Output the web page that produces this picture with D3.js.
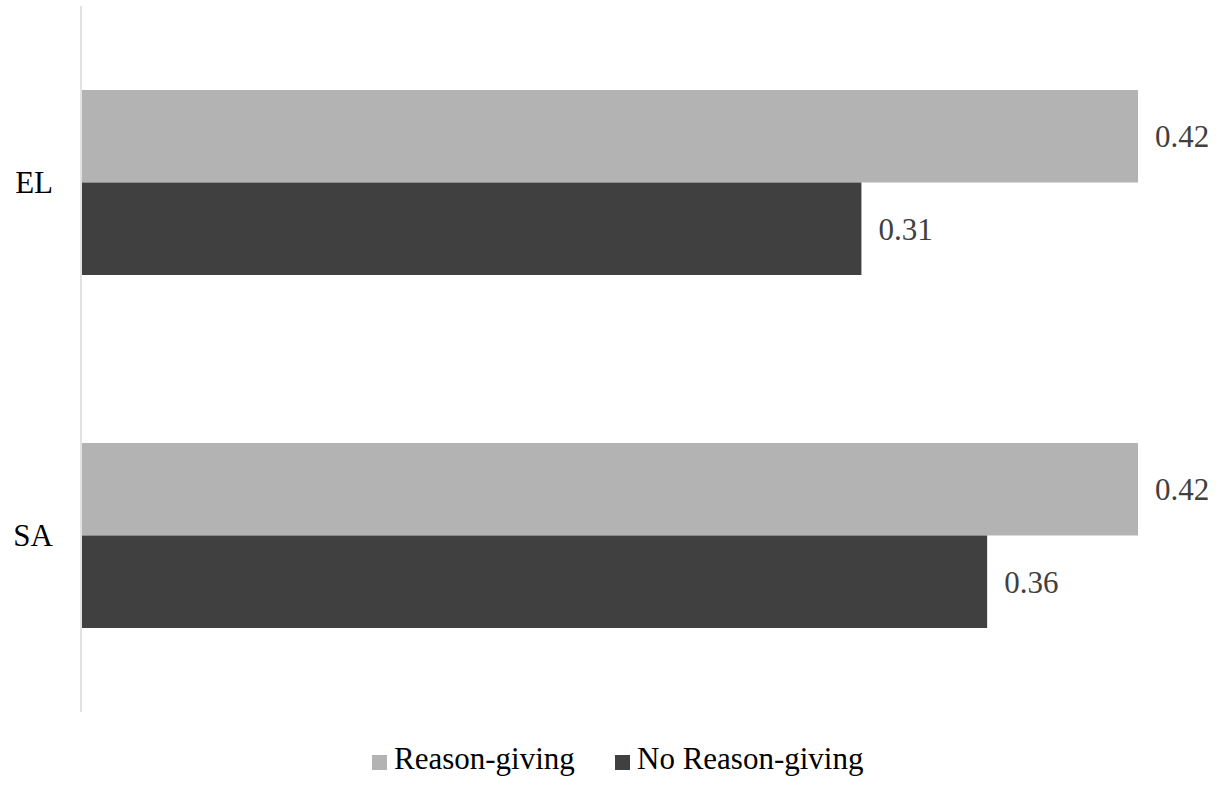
<!DOCTYPE html>
<html>
<head>
<meta charset="utf-8">
<script src="https://cdn.jsdelivr.net/npm/d3@7"></script>
<style>
  body { margin: 0; background: #fff; }
  text { font-family: "Liberation Serif", "Times New Roman", serif; }
</style>
</head>
<body>
<svg width="1222" height="790"></svg>
<script>
var categories = ["EL", "SA"];
var series = ["Reason-giving", "No Reason-giving"];
var reasonGiving = [0.42, 0.42];
var noReasonGiving = [0.31, 0.36];
var colors = ["#b3b3b3", "#404040"];

var svg = d3.select("svg"),
    width = +svg.attr("width"),
    height = +svg.attr("height");

var data = categories.map(function(c, i) {
  return { cat: c, values: [reasonGiving[i], noReasonGiving[i]] };
});

var y = d3.scaleBand()
    .domain(categories)
    .range([6, 712])
    .paddingInner(0.476)
    .paddingOuter(0.238);

var ySub = d3.scaleBand()
    .domain(series)
    .range([0, y.bandwidth()]);

var x = d3.scaleLinear()
    .domain([0, 0.42])
    .range([82, 1138]);

var color = d3.scaleOrdinal().domain(series).range(colors);

// bars
var groups = svg.selectAll(".grp")
    .data(data)
    .enter().append("g")
      .attr("class", "grp")
      .attr("transform", function(d) { return "translate(0," + y(d.cat) + ")"; });

groups.selectAll("rect")
    .data(function(d) { return d.values.map(function(v, j) { return { key: series[j], value: v }; }); })
    .enter().append("rect")
      .attr("x", x(0))
      .attr("y", function(d) { return ySub(d.key); })
      .attr("width", function(d) { return x(d.value) - x(0); })
      .attr("height", ySub.bandwidth())
      .attr("fill", function(d) { return color(d.key); });

groups.selectAll(".val")
    .data(function(d) { return d.values.map(function(v, j) { return { key: series[j], value: v }; }); })
    .enter().append("text")
      .attr("class", "val")
      .attr("x", function(d) { return x(d.value) + 17; })
      .attr("y", function(d) { return ySub(d.key) + ySub.bandwidth() / 2; })
      .attr("dy", "0.35em")
      .style("font-size", "31px")
      .style("fill", "#404040")
      .text(function(d) { return d3.format(".2f")(d.value); });

// axis line
svg.append("line")
    .attr("x1", 81).attr("x2", 81)
    .attr("y1", y.range()[0]).attr("y2", y.range()[1])
    .style("stroke", "#d9d9d9")
    .style("stroke-width", 1.5);

// category labels
svg.selectAll(".cat")
    .data(categories)
    .enter().append("text")
      .attr("class", "cat")
      .attr("x", 53)
      .attr("y", function(d) { return y(d) + y.bandwidth() / 2; })
      .attr("dy", "0.35em")
      .attr("text-anchor", "end")
      .style("font-size", "31px")
      .style("fill", "#000")
      .text(function(d) { return d; });

// legend
var legendX = [372, 615];
var legend = svg.selectAll(".leg")
    .data(series)
    .enter().append("g")
      .attr("class", "leg")
      .attr("transform", function(d, i) { return "translate(" + legendX[i] + ",755)"; });

legend.append("rect")
    .attr("width", 15).attr("height", 15)
    .attr("fill", function(d) { return color(d); });

legend.append("text")
    .attr("x", 22)
    .attr("y", 14)
    .style("font-size", "31px")
    .style("fill", "#000")
    .text(function(d) { return d; });
</script>
</body>
</html>
